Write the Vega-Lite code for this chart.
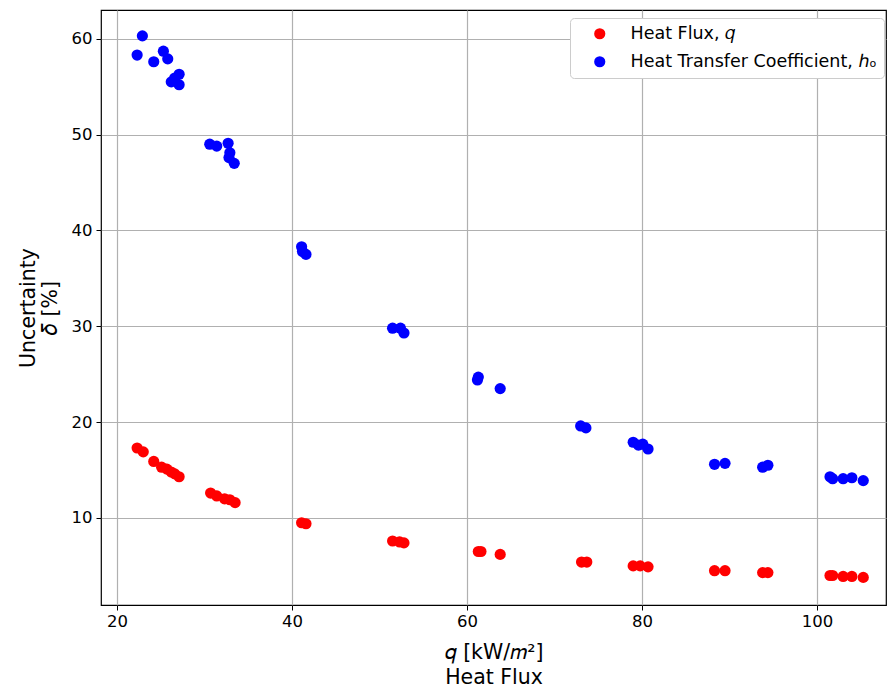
{
  "$schema": "https://vega.github.io/schema/vega-lite/v6.json",
  "width": 785,
  "height": 595,
  "autosize": {"type": "none"},
  "padding": {"left": 101, "top": 10, "right": 1, "bottom": 86},
  "background": "white",
  "config": {
    "font": "DejaVu Sans",
    "view": {"stroke": "black", "strokeWidth": 1.2},
    "axis": {
      "grid": true, "gridColor": "#b0b0b0", "gridWidth": 1.2,
      "domain": false, "tickColor": "black", "tickSize": 5, "tickWidth": 1,
      "labelFont": "DejaVu Sans", "labelFontSize": 16.5, "labelColor": "black",
      "titleFont": "DejaVu Sans", "titleFontSize": 20.5, "titleFontWeight": "normal", "titleColor": "black"
    }
  },
  "data": {
    "values": [
      {"series": "Heat Flux, 𝑞", "q": 22.3, "u": 17.3},
      {"series": "Heat Flux, 𝑞", "q": 23.0, "u": 16.9},
      {"series": "Heat Flux, 𝑞", "q": 24.2, "u": 15.9},
      {"series": "Heat Flux, 𝑞", "q": 25.1, "u": 15.3},
      {"series": "Heat Flux, 𝑞", "q": 25.7, "u": 15.1},
      {"series": "Heat Flux, 𝑞", "q": 26.2, "u": 14.8},
      {"series": "Heat Flux, 𝑞", "q": 26.6, "u": 14.6},
      {"series": "Heat Flux, 𝑞", "q": 27.1, "u": 14.3},
      {"series": "Heat Flux, 𝑞", "q": 30.7, "u": 12.6},
      {"series": "Heat Flux, 𝑞", "q": 31.4, "u": 12.3},
      {"series": "Heat Flux, 𝑞", "q": 32.3, "u": 12.0},
      {"series": "Heat Flux, 𝑞", "q": 32.9, "u": 11.9},
      {"series": "Heat Flux, 𝑞", "q": 33.5, "u": 11.6},
      {"series": "Heat Flux, 𝑞", "q": 41.1, "u": 9.5},
      {"series": "Heat Flux, 𝑞", "q": 41.6, "u": 9.4},
      {"series": "Heat Flux, 𝑞", "q": 51.5, "u": 7.6},
      {"series": "Heat Flux, 𝑞", "q": 52.3, "u": 7.5},
      {"series": "Heat Flux, 𝑞", "q": 52.8, "u": 7.4},
      {"series": "Heat Flux, 𝑞", "q": 61.3, "u": 6.5},
      {"series": "Heat Flux, 𝑞", "q": 61.6, "u": 6.5},
      {"series": "Heat Flux, 𝑞", "q": 63.8, "u": 6.2},
      {"series": "Heat Flux, 𝑞", "q": 73.1, "u": 5.4},
      {"series": "Heat Flux, 𝑞", "q": 73.7, "u": 5.4},
      {"series": "Heat Flux, 𝑞", "q": 79.0, "u": 5.0},
      {"series": "Heat Flux, 𝑞", "q": 79.8, "u": 5.0},
      {"series": "Heat Flux, 𝑞", "q": 80.7, "u": 4.9},
      {"series": "Heat Flux, 𝑞", "q": 88.3, "u": 4.5},
      {"series": "Heat Flux, 𝑞", "q": 89.5, "u": 4.5},
      {"series": "Heat Flux, 𝑞", "q": 93.8, "u": 4.3},
      {"series": "Heat Flux, 𝑞", "q": 94.4, "u": 4.3},
      {"series": "Heat Flux, 𝑞", "q": 101.5, "u": 4.0},
      {"series": "Heat Flux, 𝑞", "q": 101.8, "u": 4.0},
      {"series": "Heat Flux, 𝑞", "q": 103.0, "u": 3.9},
      {"series": "Heat Flux, 𝑞", "q": 104.0, "u": 3.9},
      {"series": "Heat Flux, 𝑞", "q": 105.3, "u": 3.8},
      {"series": "Heat Transfer Coefficient, ℎₒ", "q": 22.9, "u": 60.3},
      {"series": "Heat Transfer Coefficient, ℎₒ", "q": 22.3, "u": 58.3},
      {"series": "Heat Transfer Coefficient, ℎₒ", "q": 24.2, "u": 57.6},
      {"series": "Heat Transfer Coefficient, ℎₒ", "q": 25.3, "u": 58.7},
      {"series": "Heat Transfer Coefficient, ℎₒ", "q": 25.8, "u": 57.9},
      {"series": "Heat Transfer Coefficient, ℎₒ", "q": 27.1, "u": 56.3},
      {"series": "Heat Transfer Coefficient, ℎₒ", "q": 26.2, "u": 55.5},
      {"series": "Heat Transfer Coefficient, ℎₒ", "q": 27.1, "u": 55.2},
      {"series": "Heat Transfer Coefficient, ℎₒ", "q": 26.6, "u": 55.9},
      {"series": "Heat Transfer Coefficient, ℎₒ", "q": 30.6, "u": 49.0},
      {"series": "Heat Transfer Coefficient, ℎₒ", "q": 31.4, "u": 48.8},
      {"series": "Heat Transfer Coefficient, ℎₒ", "q": 32.7, "u": 49.1},
      {"series": "Heat Transfer Coefficient, ℎₒ", "q": 32.9, "u": 48.1},
      {"series": "Heat Transfer Coefficient, ℎₒ", "q": 32.8, "u": 47.6},
      {"series": "Heat Transfer Coefficient, ℎₒ", "q": 33.4, "u": 47.0},
      {"series": "Heat Transfer Coefficient, ℎₒ", "q": 41.1, "u": 38.3},
      {"series": "Heat Transfer Coefficient, ℎₒ", "q": 41.2, "u": 37.8},
      {"series": "Heat Transfer Coefficient, ℎₒ", "q": 41.6, "u": 37.5},
      {"series": "Heat Transfer Coefficient, ℎₒ", "q": 51.5, "u": 29.8},
      {"series": "Heat Transfer Coefficient, ℎₒ", "q": 52.4, "u": 29.8},
      {"series": "Heat Transfer Coefficient, ℎₒ", "q": 52.8, "u": 29.3},
      {"series": "Heat Transfer Coefficient, ℎₒ", "q": 61.3, "u": 24.7},
      {"series": "Heat Transfer Coefficient, ℎₒ", "q": 61.2, "u": 24.4},
      {"series": "Heat Transfer Coefficient, ℎₒ", "q": 63.8, "u": 23.5},
      {"series": "Heat Transfer Coefficient, ℎₒ", "q": 73.0, "u": 19.6},
      {"series": "Heat Transfer Coefficient, ℎₒ", "q": 73.6, "u": 19.4},
      {"series": "Heat Transfer Coefficient, ℎₒ", "q": 79.0, "u": 17.9},
      {"series": "Heat Transfer Coefficient, ℎₒ", "q": 79.6, "u": 17.6},
      {"series": "Heat Transfer Coefficient, ℎₒ", "q": 80.1, "u": 17.7},
      {"series": "Heat Transfer Coefficient, ℎₒ", "q": 80.7, "u": 17.2},
      {"series": "Heat Transfer Coefficient, ℎₒ", "q": 88.3, "u": 15.6},
      {"series": "Heat Transfer Coefficient, ℎₒ", "q": 89.5, "u": 15.7},
      {"series": "Heat Transfer Coefficient, ℎₒ", "q": 93.8, "u": 15.3},
      {"series": "Heat Transfer Coefficient, ℎₒ", "q": 94.4, "u": 15.5},
      {"series": "Heat Transfer Coefficient, ℎₒ", "q": 101.5, "u": 14.3},
      {"series": "Heat Transfer Coefficient, ℎₒ", "q": 101.8, "u": 14.1},
      {"series": "Heat Transfer Coefficient, ℎₒ", "q": 103.0, "u": 14.1},
      {"series": "Heat Transfer Coefficient, ℎₒ", "q": 104.0, "u": 14.2},
      {"series": "Heat Transfer Coefficient, ℎₒ", "q": 105.3, "u": 13.9}
    ]
  },
  "mark": {"type": "circle", "size": 125, "opacity": 1},
  "encoding": {
    "x": {
      "field": "q", "type": "quantitative",
      "scale": {"domain": [18.17, 107.9], "nice": false, "zero": false},
      "axis": {"values": [20, 40, 60, 80, 100], "title": ["𝑞 [kW/𝑚²]", "Heat Flux"], "titlePadding": 13, "labelPadding": 3, "titleLineHeight": 25}
    },
    "y": {
      "field": "u", "type": "quantitative",
      "scale": {"domain": [0.92, 63.0], "nice": false, "zero": false},
      "axis": {"values": [10, 20, 30, 40, 50, 60], "title": ["Uncertainty", "𝛿 [%]"], "titlePadding": 11, "labelPadding": 4, "titleLineHeight": 22}
    },
    "color": {
      "field": "series", "type": "nominal",
      "scale": {"domain": ["Heat Flux, 𝑞", "Heat Transfer Coefficient, ℎₒ"], "range": ["#ff0000", "#0000ff"]},
      "legend": {
        "title": null, "orient": "none", "legendX": 469, "legendY": 8,
        "symbolType": "circle", "symbolSize": 125, "symbolOffset": 14, "labelFontSize": 17.5, "labelFont": "DejaVu Sans", "labelColor": "black",
        "rowPadding": 9, "labelOffset": 22, "padding": 7,
        "fillColor": "white", "strokeColor": "#cccccc", "cornerRadius": 4,
        "labelLimit": 400
      }
    }
  }
}
